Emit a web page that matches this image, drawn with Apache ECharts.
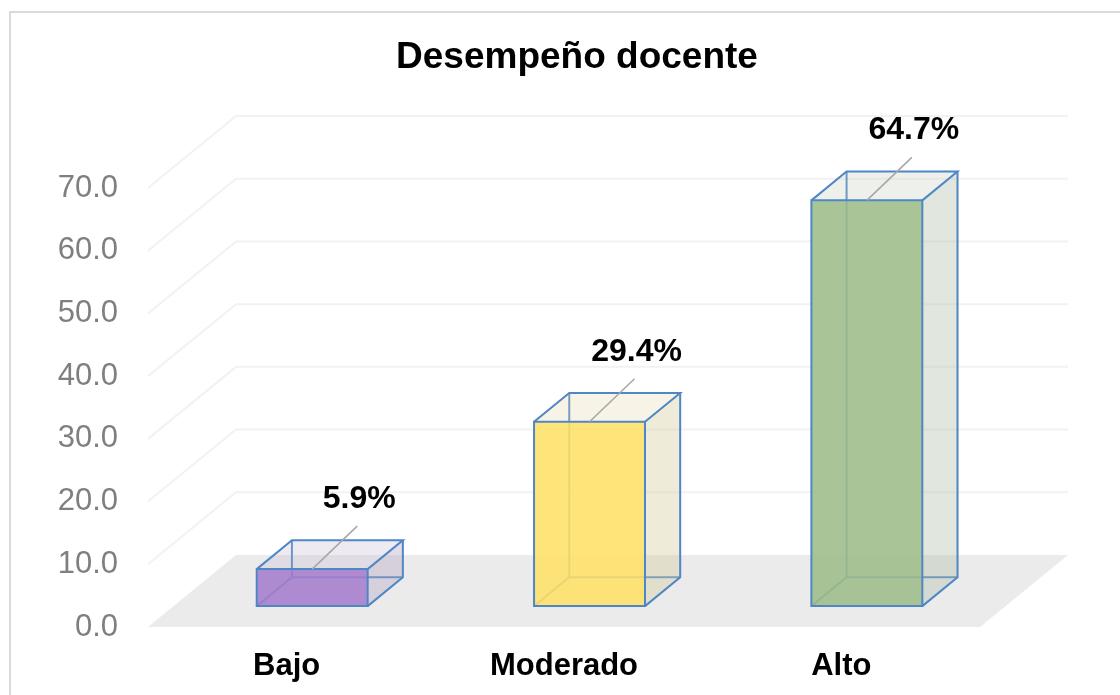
<!DOCTYPE html>
<html>
<head>
<meta charset="utf-8">
<title>Desempeño docente</title>
<script src="https://cdn.jsdelivr.net/npm/echarts@6/dist/echarts.min.js"></script>
<style>
  html, body { margin: 0; padding: 0; background: #fff; }
  #chart { width: 1120px; height: 695px; }
</style>
</head>
<body>
<div id="chart"></div>
<script>
var categories = ['Bajo', 'Moderado', 'Alto'];
var values = [5.9, 29.4, 64.7];
var valueLabels = ['5.9%', '29.4%', '64.7%'];
var yTicks = [0, 10, 20, 30, 40, 50, 60, 70];
var faceColors = ['#a57dcd', '#ffe066', '#9dbd8a'];

var FONT = '"Liberation Sans", Arial, sans-serif';
// oblique offset of the full floor depth (front edge -> back wall)
var DEPTH_X = 88, DEPTH_Y = -72;
// the boxes sit between these depth fractions
var BAR_D1 = 0.29, BAR_D2 = 0.69;
var EDGE = '#4f86c6';

function shift(p, d) {
    return [p[0] + DEPTH_X * d, p[1] + DEPTH_Y * d];
}

function renderScene(params, api) {
    var cs = params.coordSys;
    var left = cs.x, right = cs.x + cs.width;
    var children = [];
    yTicks.forEach(function (t) {
        if (t === 0) return;
        var y = api.coord([0, t])[1];
        var a = [left, y];
        children.push({
            type: 'polyline',
            shape: { points: [a, shift(a, 1), shift([right, y], 1)] },
            style: { stroke: '#f2f2f2', lineWidth: 2, fill: null }
        });
    });
    var y0 = api.coord([0, 0])[1];
    var fl = [left, y0], fr = [right, y0];
    children.push({
        type: 'polygon',
        shape: { points: [fl, fr, shift(fr, 1), shift(fl, 1)] },
        style: { fill: '#ebebeb' }
    });
    return { type: 'group', children: children };
}

function renderBar(params, api) {
    var i = params.dataIndex;
    var base = api.coord([api.value(0), 0]);
    var top = api.coord([api.value(0), api.value(1)]);
    var w = api.size([1, 0])[0] * 0.4;
    var h = base[1] - top[1];
    var p = shift([base[0] - w / 2, base[1]], BAR_D1);
    var fbl = p, fbr = [p[0] + w, p[1]], ftl = [p[0], p[1] - h], ftr = [p[0] + w, p[1] - h];
    var dd = BAR_D2 - BAR_D1;
    var bbl = shift(fbl, dd), bbr = shift(fbr, dd), btl = shift(ftl, dd), btr = shift(ftr, dd);
    var col = faceColors[i];
    var edge = { stroke: EDGE, lineWidth: 2, fill: null };
    var children = [];
    // hidden edges (seen through the faces)
    children.push({ type: 'polyline', shape: { points: [fbl, bbl, bbr] }, style: edge });
    children.push({ type: 'line', shape: { x1: bbl[0], y1: bbl[1], x2: btl[0], y2: btl[1] }, style: edge });
    // side and top faces, translucent
    children.push({ type: 'polygon', shape: { points: [fbr, bbr, btr, ftr] }, style: { fill: 'rgba(190,190,190,0.28)' } });
    children.push({ type: 'polygon', shape: { points: [fbr, bbr, btr, ftr] }, style: { fill: col, opacity: 0.14 } });
    children.push({ type: 'polygon', shape: { points: [ftl, ftr, btr, btl] }, style: { fill: 'rgba(215,215,215,0.2)' } });
    children.push({ type: 'polygon', shape: { points: [ftl, ftr, btr, btl] }, style: { fill: col, opacity: 0.1 } });
    // front face
    children.push({ type: 'polygon', shape: { points: [fbl, fbr, ftr, ftl] }, style: { fill: col, opacity: 0.88 } });
    // visible edges
    children.push({ type: 'polygon', shape: { points: [fbl, fbr, ftr, ftl] }, style: edge });
    children.push({ type: 'polyline', shape: { points: [ftl, btl, btr, ftr] }, style: edge });
    children.push({ type: 'polyline', shape: { points: [btr, bbr, fbr] }, style: edge });
    // leader line and value label
    var cx = ftl[0] + w / 2, cy = ftl[1];
    children.push({
        type: 'line',
        shape: { x1: cx, y1: cy, x2: cx + 45, y2: cy - 43 },
        style: { stroke: '#a6a6a6', lineWidth: 1.5 }
    });
    children.push({
        type: 'text',
        style: {
            text: valueLabels[i], x: cx + 47, y: cy - 70,
            align: 'center', verticalAlign: 'middle',
            fill: '#000', fontSize: 32, fontWeight: 'bold', fontFamily: FONT
        }
    });
    return { type: 'group', children: children };
}

var chart = echarts.init(document.getElementById('chart'));
chart.setOption({
    animation: false,
    backgroundColor: '#fff',
    title: {
        text: 'Desempeño docente',
        left: 572,
        top: 34,
        textAlign: 'center',
        textStyle: { fontSize: 37, fontWeight: 'bold', color: '#000', fontFamily: FONT }
    },
    graphic: [{
        type: 'rect',
        silent: true,
        z: -10,
        shape: { x: 10, y: 12, width: 1200, height: 800 },
        style: { fill: null, stroke: '#d9d9d9', lineWidth: 2 }
    }],
    grid: { left: 148, right: 140, top: 188, bottom: 68 },
    xAxis: {
        type: 'category',
        data: categories,
        axisLine: { show: false },
        axisTick: { show: false },
        axisLabel: { margin: 24, fontSize: 31, fontWeight: 'bold', color: '#000', fontFamily: FONT }
    },
    yAxis: {
        type: 'value',
        min: 0,
        max: 70,
        interval: 10,
        axisLine: { show: false },
        axisTick: { show: false },
        splitLine: { show: false },
        axisLabel: {
            margin: 30, fontSize: 31, color: '#7f7f7f', fontFamily: FONT,
            formatter: function (v) { return v.toFixed(1); }
        }
    },
    series: [{
        type: 'custom',
        z: 1,
        silent: true,
        renderItem: renderScene,
        data: [[0, 0]]
    }, {
        type: 'custom',
        z: 2,
        renderItem: renderBar,
        encode: { x: 0, y: 1 },
        data: categories.map(function (c, i) { return [i, values[i]]; })
    }]
});
</script>
</body>
</html>
